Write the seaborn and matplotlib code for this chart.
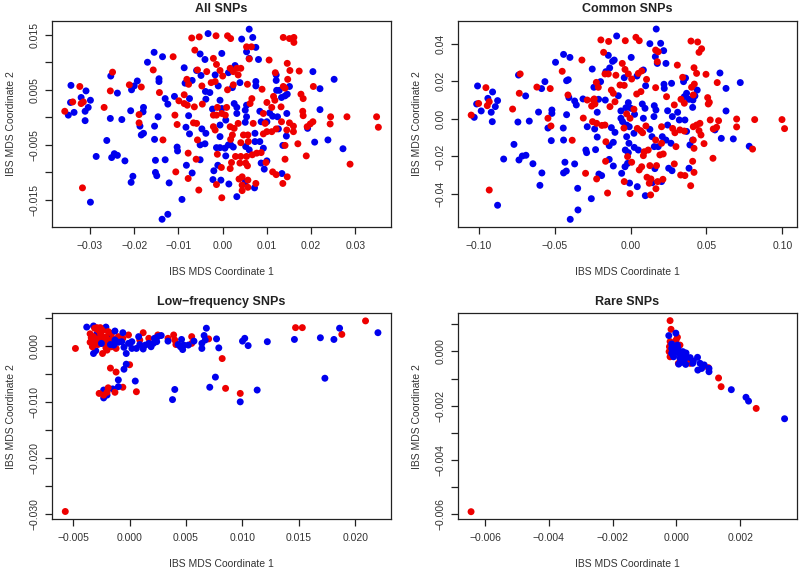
import pandas as pd
import seaborn as sns
import matplotlib.pyplot as plt

sns.set_theme(style='ticks')
plt.rcParams['font.family'] = ['Liberation Sans', 'DejaVu Sans']
plt.rcParams['text.color'] = '#222222'
plt.rcParams['axes.labelcolor'] = '#333333'
plt.rcParams['xtick.labelcolor'] = '#333333'
plt.rcParams['ytick.labelcolor'] = '#333333'

#Values, (coordinate 1, coordinate 2)
all_red = [(-0.0357,0.0011),(-0.0339,0.0028),(-0.0323,0.0056),(-0.0320,0.0025),(-0.0315,0.0028),(-0.0317,-0.0128),
           (-0.0268,0.0018),(-0.0254,0.0048),(-0.0249,0.0082),(-0.0211,0.0059),(-0.0184,0.0055),(-0.0189,0.0005),
           (-0.0189,-0.0010),(-0.0157,0.0086),(-0.0143,0.0045),(-0.0135,-0.0041),(-0.0112,0.0110),(-0.0108,0.0004),
           (-0.0103,-0.0013),(-0.0106,-0.0099),(-0.0099,0.0030),(-0.0087,0.0041),(-0.0087,0.0025),(-0.0080,0.0022),
           (-0.0081,0.0069),(-0.0077,0.0060),(-0.0078,-0.0065),(-0.0078,-0.0111),(-0.0070,0.0144),(-0.0053,0.0146),
           (-0.0063,0.0122),(-0.0057,0.0086),(-0.0064,0.0019),(-0.0066,-0.0010),(-0.0059,-0.0011),(-0.0057,-0.0041),
           (-0.0060,-0.0076),(-0.0054,-0.0132),(-0.0047,0.0057),(-0.0046,0.0024),(-0.0036,0.0083),(-0.0021,0.0107),
           (-0.0015,0.0148),(-0.0014,0.0096),(-0.0026,0.0063),(-0.0017,0.0065),(-0.0021,-0.0017),(-0.0017,-0.0023),
           (-0.0021,0.0004),(-0.0012,0.0018),(-0.0014,0.0004),(-0.0002,0.0007),(0.0009,0.0018),(0.0006,0.0004),
           (-0.0012,-0.0067),(-0.0003,-0.0091),(-0.0014,-0.0122),(-0.0002,-0.0146),(-0.0006,0.0085),(0.0000,0.0075),
           (0.0011,0.0148),(0.0018,0.0143),(0.0017,0.0089),(0.0024,0.0083),(0.0011,0.0050),(0.0024,0.0059),
           (0.0017,-0.0017),(0.0026,-0.0020),(0.0022,-0.0032),(0.0035,-0.0011),(0.0018,-0.0040),(0.0041,-0.0046),
           (0.0020,-0.0082),(0.0017,-0.0093),(0.0029,-0.0071),(0.0041,-0.0071),(0.0039,-0.0083),(0.0037,-0.0112),
           (0.0044,-0.0108),(0.0044,-0.0123),(0.0044,-0.0133),(0.0057,-0.0114),(0.0057,-0.0127),(0.0075,-0.0120),
           (0.0052,-0.0083),(0.0056,-0.0088),(0.0054,0.0128),(0.0065,0.0128),(0.0060,0.0106),(0.0032,0.0089),
           (0.0041,0.0089),(0.0035,0.0077),(0.0056,0.0060),(0.0066,0.0034),(0.0062,0.0025),(0.0047,-0.0032),
           (0.0057,-0.0032),(0.0058,-0.0044),(0.0054,-0.0071),(0.0067,-0.0068),(0.0077,-0.0065),(0.0087,-0.0064),
           (0.0098,-0.0082),(0.0069,-0.0011),(0.0096,-0.0011),(0.0092,-0.0030),(0.0105,0.0104),(0.0089,0.0051),
           (0.0100,0.0027),(0.0092,0.0007),(0.0115,0.0038),(0.0119,0.0081),(0.0118,0.0031),(0.0111,0.0018),
           (0.0100,-0.0026),(0.0111,-0.0026),(0.0121,-0.0021),(0.0132,0.0019),(0.0137,0.0056),(0.0141,0.0053),
           (0.0137,0.0145),(0.0151,0.0143),(0.0161,0.0145),(0.0161,0.0136),(0.0146,0.0098),(0.0152,0.0085),
           (0.0147,0.0069),(0.0173,0.0084),(0.0177,0.0042),(0.0182,0.0034),(0.0181,0.0011),(0.0182,0.0003),
           (0.0133,-0.0008),(0.0151,-0.0010),(0.0160,-0.0016),(0.0145,-0.0023),(0.0160,-0.0026),(0.0141,-0.0051),
           (0.0141,-0.0076),(0.0170,-0.0048),(0.0189,-0.0070),(0.0113,-0.0099),(0.0121,-0.0104),(0.0136,-0.0120),
           (0.0146,-0.0108),(0.0191,-0.0017),(0.0198,-0.0012),(0.0204,-0.0008),(0.0205,0.0056),(0.0244,0.0001),
           (0.0243,-0.0012),(0.0281,0.0001),(0.0288,-0.0085),(0.0348,0.0001),(0.0352,-0.0018)]
all_blue = [(-0.0349,0.0004),(-0.0343,0.0058),(-0.0344,0.0027),(-0.0336,0.0009),(-0.0320,0.0036),(-0.0309,0.0048),
            (-0.0299,0.0031),(-0.0304,0.0018),(-0.0311,0.0011),(-0.0311,-0.0006),(-0.0299,-0.0154),(-0.0286,-0.0071),
            (-0.0262,-0.0042),(-0.0254,-0.0002),(-0.0253,0.0075),(-0.0251,-0.0073),(-0.0245,-0.0066),(-0.0238,-0.0069),
            (-0.0238,0.0044),(-0.0228,-0.0004),(-0.0221,-0.0079),(-0.0208,0.0012),(-0.0207,-0.0118),(-0.0203,-0.0107),
            (-0.0206,0.0050),(-0.0200,0.0057),(-0.0193,0.0066),(-0.0187,-0.0016),(-0.0179,0.0018),(-0.0180,0.0010),
            (-0.0179,-0.0029),(-0.0184,-0.0032),(-0.0170,0.0100),(-0.0155,0.0118),(-0.0154,-0.0016),(-0.0154,-0.0040),
            (-0.0152,-0.0078),(-0.0152,-0.0100),(-0.0149,-0.0106),(-0.0144,0.0070),(-0.0144,0.0065),(-0.0146,0.0001),
            (-0.0136,0.0110),(-0.0130,0.0034),(-0.0124,0.0024),(-0.0130,-0.0077),(-0.0121,-0.0119),(-0.0124,-0.0176),
            (-0.0137,-0.0185),(-0.0109,0.0038),(-0.0103,-0.0054),(-0.0102,-0.0061),(-0.0092,-0.0149),(-0.0087,0.0090),
            (-0.0085,0.0062),(-0.0083,-0.0018),(-0.0082,-0.0087),(-0.0077,0.0003),(-0.0075,-0.0030),(-0.0075,0.0034),
            (-0.0069,0.0067),(-0.0069,-0.0101),(-0.0051,0.0115),(-0.0049,0.0076),(-0.0059,0.0085),(-0.0051,-0.0077),
            (-0.0051,-0.0050),(-0.0047,-0.0021),(-0.0040,0.0105),(-0.0040,-0.0048),(-0.0038,-0.0029),(-0.0033,0.0152),
            (-0.0039,0.0047),(-0.0029,0.0045),(-0.0038,0.0033),(-0.0023,0.0015),(-0.0020,-0.0097),(-0.0022,-0.0113),
            (-0.0004,-0.0114),(-0.0011,-0.0087),(-0.0014,-0.0055),(-0.0006,-0.0055),(-0.0006,-0.0035),(-0.0006,-0.0014),
            (-0.0006,0.0031),(-0.0002,0.0016),(-0.0002,0.0116),(-0.0017,0.0077),(-0.0010,0.0057),(0.0007,-0.0005),
            (0.0007,-0.0070),(0.0005,-0.0056),(0.0013,-0.0050),(0.0018,-0.0050),(0.0024,-0.0054),(0.0014,-0.0121),
            (0.0032,-0.0144),(0.0013,0.0081),(0.0028,0.0094),(0.0026,0.0025),(0.0032,0.0018),(0.0032,0.0007),
            (0.0022,0.0054),(0.0039,0.0063),(0.0043,0.0142),(0.0054,0.0119),(0.0060,0.0160),(0.0068,0.0145),
            (0.0075,0.0127),(0.0060,0.0107),(0.0081,0.0105),(0.0075,0.0065),(0.0075,0.0057),(0.0054,0.0022),
            (0.0051,0.0013),(0.0054,0.0001),(0.0051,-0.0009),(0.0073,-0.0029),(0.0073,-0.0044),(0.0052,-0.0053),
            (0.0060,-0.0059),(0.0084,-0.0044),(0.0092,-0.0056),(0.0087,-0.0083),(0.0094,-0.0094),(0.0100,-0.0079),
            (0.0051,-0.0117),(0.0072,-0.0128),(0.0084,0.0011),(0.0087,-0.0008),(0.0100,-0.0008),(0.0106,0.0008),
            (0.0113,0.0002),(0.0124,0.0001),(0.0121,0.0077),(0.0121,0.0067),(0.0122,0.0049),(0.0128,0.0049),
            (0.0133,0.0036),(0.0141,0.0039),(0.0146,0.0042),(0.0151,0.0056),(0.0145,0.0007),(0.0126,-0.0021),
            (0.0144,-0.0034),(0.0136,-0.0051),(0.0134,-0.0102),(0.0192,-0.0020),(0.0204,0.0083),(0.0220,0.0052),
            (0.0220,0.0014),(0.0208,-0.0045),(0.0238,-0.0041),(0.0252,0.0069),(0.0272,-0.0057)]

common_red = [(-0.1051,0.0020),(-0.1002,0.0082),(-0.0954,0.0166),(-0.0945,0.0070),(-0.0932,0.0091),(-0.0932,-0.0379),
              (-0.0778,0.0052),(-0.0734,0.0136),(-0.0728,0.0239),(-0.0618,0.0169),(-0.0530,0.0161),(-0.0545,0.0003),
              (-0.0525,-0.0038),(-0.0451,0.0253),(-0.0413,0.0127),(-0.0385,-0.0114),(-0.0321,0.0313),(-0.0312,0.0004),
              (-0.0297,-0.0290),(-0.0286,0.0100),(-0.0246,0.0100),(-0.0251,-0.0015),(-0.0257,0.0068),(-0.0235,0.0079),
              (-0.0224,-0.0024),(-0.0226,0.0194),(-0.0213,0.0168),(-0.0240,0.0106),(-0.0224,-0.0320),(-0.0196,0.0420),
              (-0.0178,0.0354),(-0.0145,0.0412),(-0.0169,0.0239),(-0.0147,0.0239),(-0.0189,-0.0035),(-0.0169,-0.0033),
              (-0.0163,-0.0122),(-0.0165,-0.0226),(-0.0152,-0.0395),(-0.0136,0.0065),(-0.0127,0.0153),(-0.0114,0.0136),
              (-0.0103,0.0091),(-0.0097,0.0232),(-0.0070,0.0180),(-0.0055,0.0295),(-0.0037,0.0263),(-0.0035,0.0416),
              (-0.0044,-0.0049),(-0.0015,0.0239),(0.0007,0.0212),(-0.0042,0.0178),(-0.0026,0.0026),(-0.0004,0.0003),
              (0.0022,0.0051),(-0.0042,-0.0334),(-0.0004,-0.0398),(-0.0020,-0.0201),(0.0007,-0.0231),(0.0035,0.0434),
              (0.0057,0.0416),(0.0040,0.0132),(0.0051,0.0242),(0.0073,0.0255),(0.0105,0.0210),(0.0068,0.0145),
              (0.0044,-0.0051),(0.0066,-0.0063),(0.0079,-0.0074),(0.0101,-0.0038),(0.0057,-0.0272),(0.0073,-0.0255),
              (0.0090,-0.0175),(0.0116,-0.0166),(0.0084,-0.0196),(0.0127,-0.0249),(0.0108,-0.0311),(0.0134,-0.0320),
              (0.0123,-0.0343),(0.0132,-0.0405),(0.0167,-0.0372),(0.0178,-0.0334),(0.0213,-0.0322),(0.0165,0.0366),
              (0.0182,0.0357),(0.0176,0.0304),(0.0165,0.0166),(0.0165,-0.0113),(0.0171,-0.0249),(0.0204,-0.0130),
              (0.0215,-0.0187),(0.0193,-0.0192),(0.0204,-0.0042),(0.0237,0.0118),(0.0308,0.0286),(0.0288,0.0074),
              (0.0277,-0.0051),(0.0292,-0.0074),(0.0299,-0.0148),(0.0288,-0.0240),(0.0330,-0.0299),(0.0358,-0.0302),
              (0.0343,0.0221),(0.0332,0.0104),(0.0354,0.0083),(0.0325,-0.0059),(0.0354,-0.0065),(0.0398,0.0414),
              (0.0442,0.0409),(0.0468,0.0373),(0.0451,0.0354),(0.0418,0.0272),(0.0435,0.0242),(0.0402,0.0168),
              (0.0420,0.0185),(0.0413,0.0127),(0.0413,-0.0042),(0.0435,-0.0033),(0.0457,-0.0024),(0.0451,-0.0063),
              (0.0464,-0.0086),(0.0413,-0.0113),(0.0418,-0.0157),(0.0409,-0.0226),(0.0418,-0.0285),(0.0396,-0.0356),
              (0.0484,-0.0132),(0.0497,0.0237),(0.0508,0.0113),(0.0519,0.0088),(0.0512,0.0079),(0.0525,-0.0006),
              (0.0571,0.0193),(0.0543,-0.0210),(0.0545,-0.0054),(0.0567,-0.0045),(0.0580,-0.0010),(0.0699,-0.0001),
              (0.0699,-0.0043),(0.0818,-0.0004),(0.0804,-0.0161),(0.0998,-0.0004),(0.1015,-0.0052)]
common_blue = [(-0.1009,0.0175),(-0.1015,0.0079),(-0.0985,0.0042),(-0.1031,0.0008),(-0.0941,0.0109),(-0.0910,0.0143),
               (-0.0877,0.0097),(-0.0892,0.0065),(-0.0919,0.0035),(-0.0912,-0.0015),(-0.0877,-0.0460),(-0.0837,-0.0214),
               (-0.0769,-0.0136),(-0.0743,-0.0017),(-0.0739,0.0233),(-0.0736,-0.0219),(-0.0714,-0.0198),(-0.0690,-0.0194),
               (-0.0692,0.0122),(-0.0668,-0.0012),(-0.0644,-0.0239),(-0.0607,0.0036),(-0.0598,-0.0354),(-0.0585,-0.0288),
               (-0.0587,0.0161),(-0.0565,0.0198),(-0.0545,-0.0049),(-0.0519,0.0047),(-0.0519,0.0029),(-0.0523,-0.0116),
               (-0.0495,0.0301),(-0.0442,0.0343),(-0.0444,-0.0049),(-0.0442,-0.0113),(-0.0433,-0.0231),(-0.0442,-0.0288),
               (-0.0424,-0.0278),(-0.0422,0.0022),(-0.0422,0.0203),(-0.0411,0.0208),(-0.0400,0.0327),(-0.0398,-0.0535),
               (-0.0407,0.0113),(-0.0369,0.0095),(-0.0358,0.0074),(-0.0369,-0.0240),(-0.0349,-0.0370),(-0.0347,-0.0485),
               (-0.0314,0.0106),(-0.0295,-0.0166),(-0.0290,-0.0180),(-0.0286,-0.0042),(-0.0259,-0.0425),(-0.0253,0.0265),
               (-0.0242,0.0168),(-0.0237,-0.0054),(-0.0231,-0.0164),(-0.0220,0.0035),(-0.0220,-0.0097),(-0.0211,0.0104),
               (-0.0198,0.0198),(-0.0209,-0.0294),(-0.0191,-0.0302),(-0.0167,0.0100),(-0.0163,0.0251),(-0.0138,0.0271),
               (-0.0147,0.0338),(-0.0119,0.0306),(-0.0108,0.0313),(-0.0127,-0.0047),(-0.0141,-0.0143),(-0.0141,-0.0216),
               (-0.0114,-0.0251),(-0.0103,-0.0072),(-0.0114,-0.0125),(-0.0092,0.0441),(-0.0081,0.0123),(-0.0064,0.0042),
               (-0.0064,0.0003),(-0.0053,-0.0015),(-0.0059,-0.0290),(-0.0042,0.0219),(-0.0031,0.0059),(-0.0015,0.0086),
               (0.0002,0.0056),(-0.0026,-0.0033),(-0.0009,-0.0042),(-0.0026,-0.0095),(-0.0011,-0.0130),(-0.0035,-0.0166),
               (-0.0015,-0.0180),(-0.0020,-0.0237),(-0.0037,-0.0255),(-0.0007,-0.0342),(0.0004,0.0327),(0.0026,0.0024),
               (0.0022,-0.0077),(0.0024,-0.0152),(0.0051,-0.0166),(0.0042,0.0228),(0.0044,-0.0361),(0.0097,-0.0409),
               (0.0084,0.0260),(0.0099,0.0176),(0.0077,0.0079),(0.0095,0.0056),(0.0084,0.0003),(0.0127,0.0400),
               (0.0198,0.0402),(0.0169,0.0478),(0.0218,0.0363),(0.0163,0.0331),(0.0176,0.0295),(0.0233,0.0295),
               (0.0220,0.0184),(0.0222,0.0162),(0.0270,0.0189),(0.0156,0.0070),(0.0167,0.0047),(0.0154,0.0012),
               (0.0127,-0.0056),(0.0141,-0.0095),(0.0156,-0.0148),(0.0182,-0.0148),(0.0160,-0.0265),(0.0143,-0.0340),
               (0.0204,-0.0334),(0.0209,-0.0095),(0.0233,-0.0113),(0.0266,-0.0130),(0.0244,-0.0033),(0.0244,0.0043),
               (0.0251,-0.0263),(0.0273,-0.0276),(0.0310,0.0035),(0.0275,0.0012),(0.0321,-0.0006),(0.0358,-0.0006),
               (0.0349,0.0198),(0.0362,0.0217),(0.0354,0.0118),(0.0369,0.0136),(0.0385,0.0104),(0.0411,0.0100),
               (0.0424,0.0122),(0.0439,0.0153),(0.0409,0.0061),(0.0369,-0.0067),(0.0409,-0.0113),(0.0391,-0.0139),
               (0.0385,-0.0263),(0.0556,-0.0059),(0.0589,0.0244),(0.0629,0.0162),(0.0629,0.0042),(0.0598,-0.0104),
               (0.0677,-0.0107),(0.0723,0.0193),(0.0782,-0.0146)]

#Left cluster of blue sits under the red, the rest sits on top of it
low_blue_back = [(-0.0038,0.0033),(-0.0032,0.0035),(-0.0032,-0.0014),(-0.0030,-0.0009),(-0.0029,0.0021),(-0.0025,0.0013),
                 (-0.0025,0.0004),(-0.0021,0.0033),(-0.0017,0.0019),(-0.0023,-0.0079),(-0.0023,-0.0093),(-0.0020,-0.0088),
                 (-0.0015,-0.0077)]
low_red = [(-0.0057,-0.0295),(-0.0048,-0.0005),(-0.0035,0.0021),(-0.0035,0.0006),(-0.0033,-0.0002),(-0.0031,0.0031),
           (-0.0029,0.0032),(-0.0028,0.0028),(-0.0032,0.0016),(-0.0030,0.0010),(-0.0026,0.0022),(-0.0028,0.0002),
           (-0.0023,0.0010),(-0.0024,-0.0014),(-0.0020,-0.0008),(-0.0019,0.0025),(-0.0016,-0.0002),(-0.0012,-0.0005),
           (-0.0010,0.0016),(-0.0001,0.0019),(-0.0006,0.0013),(0.0012,0.0023),(0.0017,0.0013),(0.0009,0.0010),
           (0.0025,0.0019),(0.0034,0.0013),(0.0039,0.0019),(0.0040,0.0010),(0.0041,0.0002),(0.0055,0.0016),
           (0.0055,0.0004),(0.0070,0.0012),(0.0082,-0.0023),(-0.0017,-0.0040),(-0.0012,-0.0047),(0.0000,-0.0034),
           (-0.0027,-0.0085),(-0.0023,-0.0088),(-0.0019,-0.0075),(-0.0020,-0.0083),(-0.0013,-0.0083),(-0.0006,-0.0074),
           (0.0006,-0.0082),(0.0085,-0.0076),(0.0098,-0.0085),(0.0147,0.0032),(0.0153,0.0032),(0.0209,0.0044),
           (0.0188,0.0020),(-0.0034,0.0014),(-0.0031,0.0002),(-0.0028,0.0012),(-0.0026,0.0032),(-0.0027,0.0007),
           (-0.0025,0.0018),(-0.0024,0.0027),(-0.0022,0.0005),(-0.0021,0.0015),(-0.0021,-0.0004),(-0.0018,0.0009),
           (-0.0016,0.0022),(-0.0015,0.0013),(-0.0011,0.0008)]
low_blue_front = [(-0.0025,0.0004),(-0.0017,0.0002),(-0.0013,0.0026),(-0.0013,0.0010),(-0.0010,0.0006),(-0.0014,0.0001),
                  (-0.0006,0.0023),(-0.0007,0.0007),(-0.0003,-0.0014),(-0.0005,-0.0003),(-0.0001,0.0004),(0.0002,0.0007),
                  (0.0002,-0.0005),(0.0006,-0.0005),(0.0008,0.0016),(0.0009,0.0002),(0.0012,-0.0006),(0.0014,0.0001),
                  (0.0017,0.0004),(0.0019,-0.0002),(0.0021,0.0004),(0.0022,0.0013),(0.0025,0.0016),(0.0024,0.0007),
                  (0.0028,0.0018),(0.0034,0.0008),(0.0043,0.0002),(0.0046,0.0011),(0.0045,-0.0002),(0.0047,-0.0007),
                  (0.0048,0.0001),(0.0052,0.0001),(0.0057,0.0008),(0.0064,0.0004),(0.0064,-0.0005),(0.0066,0.0018),
                  (0.0068,0.0031),(0.0067,0.0010),(0.0077,0.0012),(0.0079,-0.0004),(0.0100,0.0008),(0.0102,0.0013),
                  (0.0105,0.0000),(0.0122,0.0007),(0.0146,0.0011),(0.0169,0.0014),(0.0181,0.0011),(0.0186,0.0031),
                  (0.0220,0.0023),(-0.0003,-0.0033),(-0.0005,-0.0042),(-0.0010,-0.0061),(0.0005,-0.0063),(-0.0010,-0.0073),
                  (0.0040,-0.0078),(0.0038,-0.0096),(0.0071,-0.0074),(0.0076,-0.0056),(0.0098,-0.0100),(0.0113,-0.0079),
                  (0.0173,-0.0058)]

rare_red = [(-0.00644,-0.0059),(-0.0002,0.00113),(-0.00017,0.00081),(0.00003,0.00052),(-0.00001,0.00042),(-0.0002,0.00036),
            (-0.00022,0.00017),(-0.00023,-0.00001),(-0.0002,-0.0002),(0.00011,0.00023),(0.00006,-0.00044),(0.00032,-0.00036),
            (0.00043,-0.00044),(0.00027,-0.00007),(0.0010,-0.0006),(0.00132,-0.00098),(0.0014,-0.0013),(0.0025,-0.0021)]
rare_blue = [(-0.00024,0.00058),(-0.00002,0.00067),(-0.00015,0.00027),(-0.00015,0.00011),(-0.00015,-0.00007),(-0.00009,-0.0002),
             (-0.00004,0.00017),(0.00001,0.00005),(0.00003,0.00023),(0.00007,-0.00007),(0.00011,-0.00026),(0.00007,-0.00047),
             (0.0002,-0.00001),(0.00027,-0.00026),(0.00022,-0.0004),(0.0003,-0.00006),(0.00029,-0.00048),(0.00043,-0.00023),
             (0.00053,-0.00036),(0.00066,-0.00022),(0.00051,-0.00044),(0.00067,-0.00069),(0.00074,-0.00044),(0.00079,-0.00063),
             (0.00087,-0.0005),(0.00102,-0.00063),(0.00102,-0.00075),(0.00172,-0.00141),(0.00218,-0.00169),(0.00226,-0.00183),
             (0.00339,-0.00248),(-0.00012,-0.0001),(0.00005,0.0001),(0.00012,-0.00012),(0.00018,-0.00018),(0.00015,-0.0004)]

titles = ['All SNPs', 'Common SNPs', 'Low\u2212frequency SNPs', 'Rare SNPs']
xlabel = 'IBS MDS Coordinate 1'
ylabel = 'IBS MDS Coordinate 2'

all_xticks = [-0.03, -0.02, -0.01, 0.00, 0.01, 0.02, 0.03]
all_xlabels = ['\u22120.03', '\u22120.02', '\u22120.01', '0.00', '0.01', '0.02', '0.03']
all_yticks = [-0.015, -0.010, -0.005, 0.000, 0.005, 0.010, 0.015]
all_ylabels = ['\u22120.015', '', '\u22120.005', '', '0.005', '', '0.015']

common_xticks = [-0.10, -0.05, 0.00, 0.05, 0.10]
common_xlabels = ['\u22120.10', '\u22120.05', '0.00', '0.05', '0.10']
common_yticks = [-0.04, -0.02, 0.00, 0.02, 0.04]
common_ylabels = ['\u22120.04', '\u22120.02', '0.00', '0.02', '0.04']

low_xticks = [-0.005, 0.000, 0.005, 0.010, 0.015, 0.020]
low_xlabels = ['\u22120.005', '0.000', '0.005', '0.010', '0.015', '0.020']
low_yticks = [-0.030, -0.025, -0.020, -0.015, -0.010, -0.005, 0.000, 0.005]
low_ylabels = ['\u22120.030', '', '\u22120.020', '', '\u22120.010', '', '0.000', '']

rare_xticks = [-0.006, -0.004, -0.002, 0.000, 0.002]
rare_xlabels = ['\u22120.006', '\u22120.004', '\u22120.002', '0.000', '0.002']
rare_yticks = [-0.006, -0.005, -0.004, -0.003, -0.002, -0.001, 0.000, 0.001]
rare_ylabels = ['\u22120.006', '', '\u22120.004', '', '\u22120.002', '', '0.000', '']

panel_colors = {'blue': '#0000ee', 'red': '#ee0000'}


def make_table(layers):
    #Rows are drawn in table order, so the layer order sets what is on top
    frames = []
    for name, points in layers:
        frame = pd.DataFrame(points, columns=['coord1', 'coord2'])
        frame['group'] = name
        frames.append(frame)
    return pd.concat(frames, ignore_index=True)


def draw_panel(ax, title, layers, xlim, ylim, xticks, xlabels, yticks, ylabels):
    sns.scatterplot(data=make_table(layers), x='coord1', y='coord2', hue='group', palette=panel_colors,
                    s=25, linewidth=0, legend=False, ax=ax)
    ax.set_xlim(xlim)
    ax.set_ylim(ylim)
    ax.set_xticks(xticks, labels=xlabels)
    ax.set_yticks(yticks, labels=ylabels)
    ax.tick_params(axis='x', length=4.7, width=0.9, color='#222222', pad=5.5, labelsize=7.5)
    ax.tick_params(axis='y', length=4.7, width=0.9, color='#222222', pad=4.5, labelsize=7.5)
    for label in ax.get_yticklabels():
        label.set_rotation(90)
        label.set_va('center')
    for spine in ax.spines.values():
        spine.set_linewidth(0.9)
        spine.set_color('#222222')
    ax.set_title(title, fontsize=9, fontweight='bold', pad=6)
    ax.set_xlabel(xlabel, fontsize=7.5, va='center')
    ax.set_ylabel(ylabel, fontsize=7.5, va='center')
    ax.xaxis.set_label_coords(0.5, -0.215)
    ax.yaxis.set_label_coords(-0.121, 0.5)


fig, axes = plt.subplots(2, 2, figsize=(7.99, 5.71), dpi=100)

draw_panel(axes[0, 0], titles[0], [('blue', all_blue), ('red', all_red)],
           (-0.03852, 0.03799), (-0.01996, 0.01754), all_xticks, all_xlabels, all_yticks, all_ylabels)
draw_panel(axes[0, 1], titles[1], [('blue', common_blue), ('red', common_red)],
           (-0.1136, 0.1095), (-0.05774, 0.05224), common_xticks, common_xlabels, common_yticks, common_ylabels)
draw_panel(axes[1, 0], titles[2], [('blue', low_blue_back), ('red', low_red), ('blue', low_blue_front)],
           (-0.00685, 0.02313), (-0.03089, 0.00575), low_xticks, low_xlabels, low_yticks, low_ylabels)
draw_panel(axes[1, 1], titles[3], [('red', rare_red), ('blue', rare_blue)],
           (-0.00684, 0.00377), (-0.00618, 0.0014), rare_xticks, rare_xlabels, rare_yticks, rare_ylabels)

#Place each panel by hand, the top row is a bit taller than the bottom one
axes[0, 0].set_position([52.3 / 799, 1 - 227.3 / 571, 338.4 / 799, 206.6 / 571])
axes[0, 1].set_position([458.3 / 799, 1 - 227.3 / 571, 338.4 / 799, 206.6 / 571])
axes[1, 0].set_position([52.3 / 799, 1 - 519.3 / 571, 338.4 / 799, 206 / 571])
axes[1, 1].set_position([458.3 / 799, 1 - 519.3 / 571, 338.4 / 799, 206 / 571])

plt.savefig('out.png', dpi=100)
